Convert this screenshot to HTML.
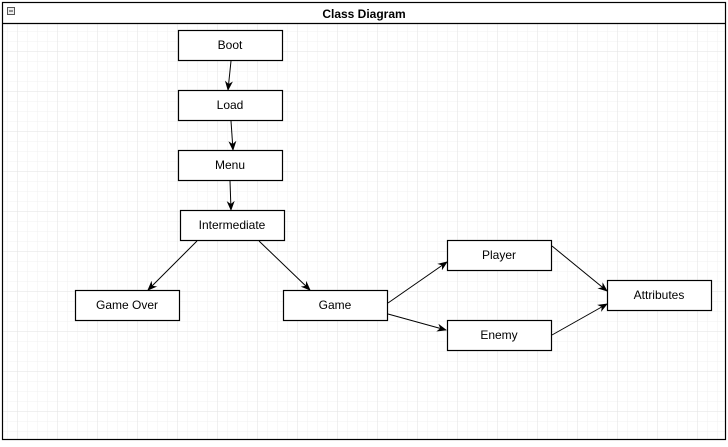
<!DOCTYPE html>
<html><head><style>
body{margin:0;width:728px;height:442px;background:#fff;overflow:hidden}
</style></head><body>
<svg width="728" height="442" xmlns="http://www.w3.org/2000/svg" font-family="Liberation Sans, Arial, sans-serif">
<defs>
<pattern id="mn" x="7" y="1" width="10" height="10" patternUnits="userSpaceOnUse"><path d="M0 0V10M0 0H10" stroke="#f1f1f1" stroke-width="1" fill="none"/></pattern>
<pattern id="mj" x="17" y="11" width="40" height="40" patternUnits="userSpaceOnUse"><path d="M0 0V40M0 0H40" stroke="#e2e2e2" stroke-width="1" fill="none"/></pattern>
<marker id="a" markerWidth="10" markerHeight="10" refX="9" refY="5" orient="auto" markerUnits="userSpaceOnUse"><path d="M0 1 L10 5 L0 9 L3 5 Z" fill="#000"/></marker>
</defs>
<rect x="2" y="23" width="724" height="417" fill="url(#mn)"/>
<rect x="2" y="23" width="724" height="417" fill="url(#mj)"/>
<rect x="2.5" y="2.5" width="723" height="437" fill="none" stroke="#000" stroke-width="1.2"/>
<line x1="2" y1="23.5" x2="726" y2="23.5" stroke="#000" stroke-width="1.2"/>
<rect x="7.5" y="7.5" width="7" height="7" fill="#eee" stroke="#555"/><line x1="9" y1="11" x2="13" y2="11" stroke="#333"/>
<text x="364" y="18" font-size="12" font-weight="bold" text-anchor="middle">Class Diagram</text>
<g fill="#fff" stroke="#000" stroke-width="1.2">
<rect x="178.5" y="30.5" width="104" height="30"/>
<rect x="178.5" y="90.5" width="104" height="30"/>
<rect x="178.5" y="150.5" width="104" height="30"/>
<rect x="180.5" y="210.5" width="104" height="30"/>
<rect x="75.5" y="290.5" width="104" height="30"/>
<rect x="283.5" y="290.5" width="104" height="30"/>
<rect x="447.5" y="240.5" width="104" height="30"/>
<rect x="447.5" y="320.5" width="104" height="30"/>
<rect x="607.5" y="280.5" width="104" height="30"/>
</g>
<g font-size="12" text-anchor="middle" fill="#000">
<text x="230" y="49">Boot</text>
<text x="230" y="109">Load</text>
<text x="230" y="169">Menu</text>
<text x="232" y="229">Intermediate</text>
<text x="127" y="309">Game Over</text>
<text x="335" y="309">Game</text>
<text x="499" y="259">Player</text>
<text x="499" y="339">Enemy</text>
<text x="659" y="299">Attributes</text>
</g>
<g stroke="#000" stroke-width="1" marker-end="url(#a)">
<line x1="231" y1="61" x2="228" y2="90"/>
<line x1="231" y1="121" x2="233" y2="150"/>
<line x1="230" y1="181" x2="231" y2="210"/>
<line x1="197" y1="241" x2="148" y2="290"/>
<line x1="259" y1="241" x2="310" y2="290"/>
<line x1="388" y1="303" x2="447" y2="262"/>
<line x1="388" y1="314" x2="446" y2="330"/>
<line x1="552" y1="246" x2="607" y2="291"/>
<line x1="552" y1="335" x2="607" y2="304"/>
</g>
</svg>
</body></html>
